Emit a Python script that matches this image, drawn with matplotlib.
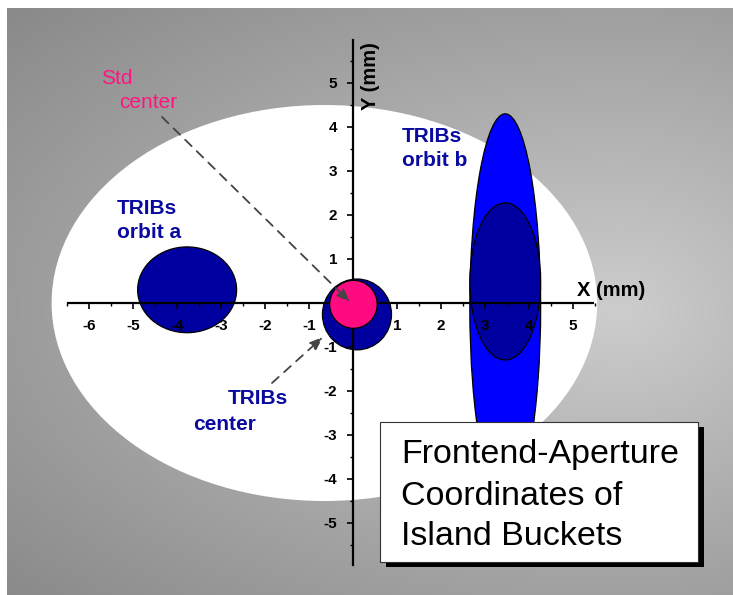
import numpy as np
import matplotlib
matplotlib.use("Agg")
import matplotlib.pyplot as plt
from matplotlib.patches import Ellipse, Rectangle

plt.rcParams['font.family'] = ['Liberation Sans', 'DejaVu Sans']

# ---------------- data ----------------
# aperture (white ellipse): centre, width, height (mm)
aperture_center = [-0.65, 0.0]
aperture_size = [12.4, 9.0]

# island buckets
bucket_names = ['TRIBs orbit a', 'TRIBs orbit b (full)', 'TRIBs orbit b (core)',
                'TRIBs center', 'Std center']
bucket_cx = [-3.77, 3.46, 3.46, 0.09, 0.01]
bucket_cy = [0.30, -0.10, 0.49, -0.26, -0.03]
bucket_w = [2.25, 1.61, 1.61, 1.57, 1.08]
bucket_h = [1.95, 8.80, 3.57, 1.61, 1.09]
bucket_colors = ['#0000A0', '#0000FF', '#0000A0', '#0000A0', '#FF0A80']

x_ticks = [-6, -5, -4, -3, -2, -1, 1, 2, 3, 4, 5]
y_ticks = [-5, -4, -3, -2, -1, 1, 2, 3, 4, 5]

title_lines = ['Frontend-Aperture', 'Coordinates of', 'Island Buckets']

# ---------------- figure ----------------
W, H = 733, 595
fig = plt.figure(figsize=(W / 100, H / 100), dpi=100)
fig.patch.set_facecolor('white')

# background gradient (pixel space)
bg = fig.add_axes([0, 0, 1, 1])
bg.set_xlim(0, W)
bg.set_ylim(H, 0)
bg.axis('off')
xs = np.arange(7, W)
ys = np.arange(8, H)
X, Y = np.meshgrid(xs, ys)
cxp, cyp = 620, 310
dx = np.where(X < cxp, (cxp - X) / 613.0, (X - cxp) / 400.0)
dy = np.where(Y < cyp, (cyp - Y) / 330.0, (Y - cyp) / 320.0)
t = np.sqrt(dx ** 2 + dy ** 2)
val = np.clip(205 - 50 * t, 130, 210) / 255.0
img = np.dstack([val, val, val])
bg.imshow(img, extent=(7, W, H, 8), aspect='auto', interpolation='bilinear', zorder=0)

# main axes: 44 px per mm, origin at pixel (353, 303)
S = 44.0
X0, Y0 = 353.0, 303.0
ax = fig.add_axes([0, 0, 1, 1])
ax.set_facecolor('none')
ax.set_xlim(-X0 / S, (W - X0) / S)
ax.set_ylim(-(H - Y0) / S, Y0 / S)


def P(px, py):
    return ((px - X0) / S, (Y0 - py) / S)


# aperture
ax.add_patch(Ellipse(aperture_center, aperture_size[0], aperture_size[1],
                     facecolor='white', edgecolor='none', zorder=0.5))

# buckets
zs = [1.0, 1.1, 1.2, 1.3, 3.0]
for cx, cy, w, h, c, z in zip(bucket_cx, bucket_cy, bucket_w, bucket_h, bucket_colors, zs):
    ax.add_patch(Ellipse((cx, cy), w, h, facecolor=c, edgecolor='black',
                         linewidth=0.9, zorder=z))

# axes spines through the origin
for s in ['top', 'right']:
    ax.spines[s].set_visible(False)
ax.spines['left'].set_position(('data', 0))
ax.spines['bottom'].set_position(('data', 0))
ax.spines['bottom'].set_bounds(-6.48, 5.45)
ax.spines['left'].set_bounds(-5.95, 5.98)
for s in ['left', 'bottom']:
    ax.spines[s].set_linewidth(1.6)
    ax.spines[s].set_zorder(2.5)
ax.set_axisbelow(False)

ax.set_xticks(x_ticks)
ax.set_yticks(y_ticks)
ax.set_xticks(np.arange(-6.5, 5.51, 0.5), minor=True)
ax.set_yticks(np.arange(-5.5, 5.51, 0.5), minor=True)
ax.set_xticklabels([str(v) for v in x_ticks])
ax.set_yticklabels([str(v) for v in y_ticks])
ax.tick_params(which='major', direction='out', length=4, width=1.2, labelsize=11, pad=7.5)
ax.tick_params(which='minor', direction='out', length=2.5, width=1.0)
for lab in ax.get_xticklabels() + ax.get_yticklabels():
    lab.set_fontweight('bold')

# axis labels
ax.text(*P(611, 290), 'X (mm)', fontsize=14.5, fontweight='bold',
        ha='center', va='center', zorder=5)
ax.text(*P(370, 76), 'Y (mm)', fontsize=14.5, fontweight='bold', rotation=90,
        ha='center', va='center', zorder=5)

# annotations
blue_txt = '#0A0AA0'
pink_txt = '#FF1480'
ax.text(*P(117, 208), 'TRIBs', color=blue_txt, fontsize=15, fontweight='bold',
        ha='left', va='center', zorder=5)
ax.text(*P(117, 233), 'orbit a', color=blue_txt, fontsize=15, fontweight='bold',
        ha='left', va='center', zorder=5)
ax.text(*P(402, 137), 'TRIBs', color=blue_txt, fontsize=15, fontweight='bold',
        ha='left', va='center', zorder=5)
ax.text(*P(402, 160), 'orbit b', color=blue_txt, fontsize=15, fontweight='bold',
        ha='left', va='center', zorder=5)
ax.text(*P(228, 399), 'TRIBs', color=blue_txt, fontsize=15, fontweight='bold',
        ha='left', va='center', zorder=5)
ax.text(*P(193, 425), 'center', color=blue_txt, fontsize=15, fontweight='bold',
        ha='left', va='center', zorder=5)
ax.text(*P(101, 78), 'Std', color=pink_txt, fontsize=15,
        ha='left', va='center', zorder=5)
ax.text(*P(119, 103), 'center', color=pink_txt, fontsize=15,
        ha='left', va='center', zorder=5)

arrow_kw = dict(arrowstyle='-|>,head_length=0.8,head_width=0.3', color='#444444',
                lw=1.3, linestyle=(0, (5, 4)), shrinkA=0, shrinkB=0)
ax.annotate('', xy=P(350, 302), xytext=P(162, 117), arrowprops=arrow_kw, zorder=4)
ax.annotate('', xy=P(323, 337), xytext=P(272, 383), arrowprops=arrow_kw, zorder=4)

# title box with shadow (pixel layout)
bx0, by0, bx1, by1 = 380, 422, 698, 562
bg2 = fig.add_axes([0, 0, 1, 1])
bg2.set_xlim(0, W)
bg2.set_ylim(H, 0)
bg2.axis('off')
bg2.set_facecolor('none')
bg2.add_patch(Rectangle((bx0 + 6, by0 + 5), bx1 - bx0, by1 - by0,
                        facecolor='black', edgecolor='none', zorder=1))
bg2.add_patch(Rectangle((bx0, by0), bx1 - bx0, by1 - by0,
                        facecolor='white', edgecolor='#333333', linewidth=0.8, zorder=2))
for line, yb in zip(title_lines, [463, 505, 545]):
    bg2.text(401, yb, line, fontsize=24.5, ha='left', va='baseline', zorder=3)

fig.savefig('out.png', dpi=100)
